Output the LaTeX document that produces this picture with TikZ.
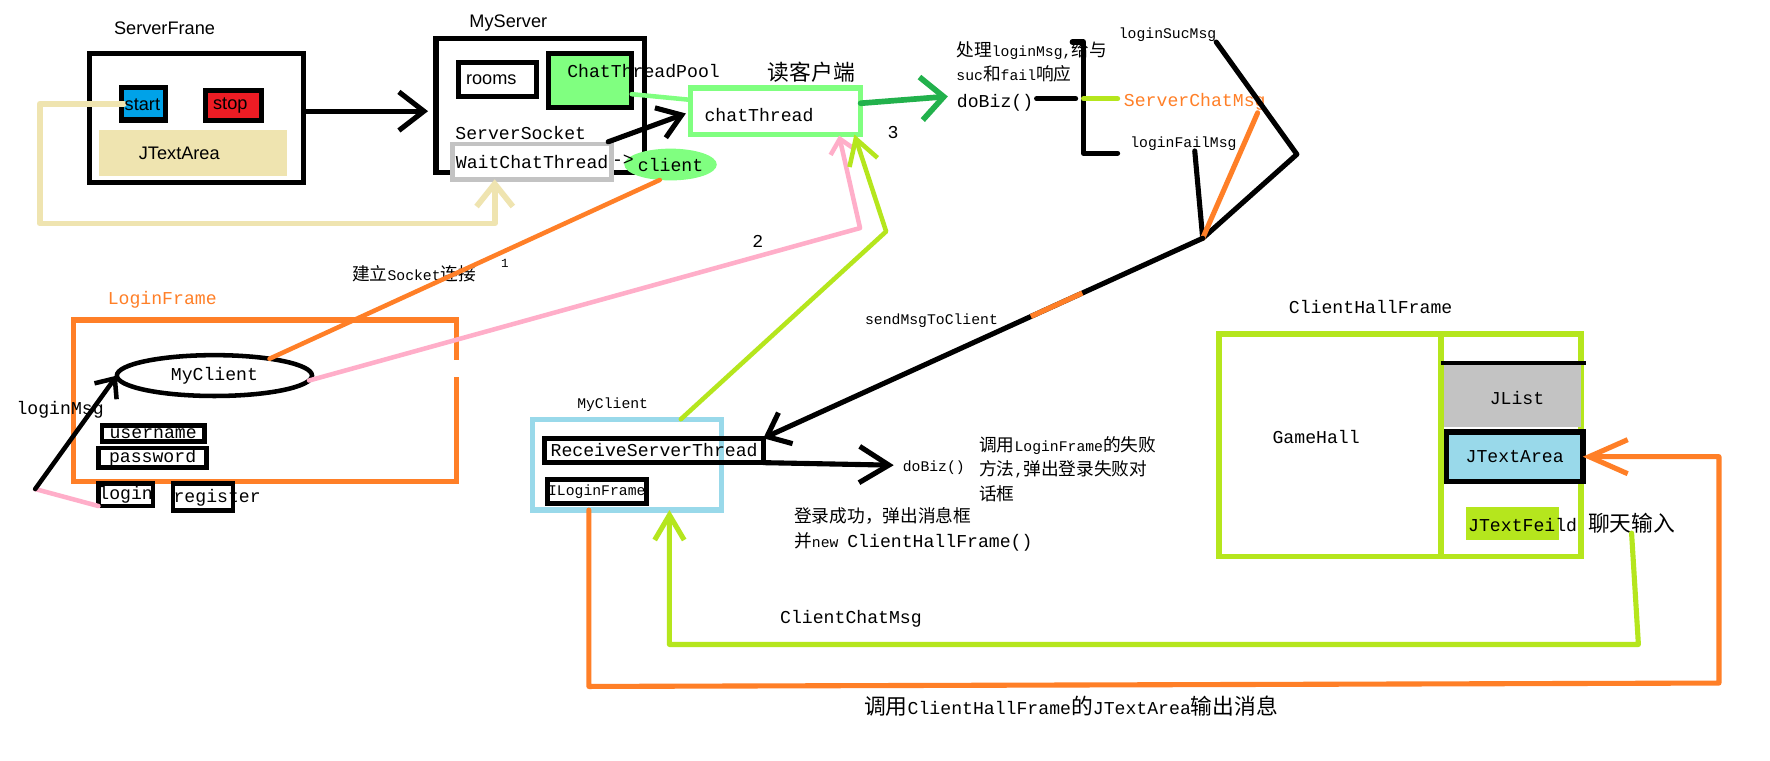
\documentclass[tikz,border=0pt]{standalone}
\usepackage{fontspec}
\setmainfont{Liberation Mono}
\newfontfamily\zhf[Scale=1.2]{Noto Sans CJK SC}
\newfontfamily\yahei{Liberation Sans}
\usetikzlibrary{arrows.meta,shapes.geometric,calc}
\definecolor{cOrange}{HTML}{FF7F27}
\definecolor{cPink}{HTML}{FFAEC9}
\definecolor{cLime}{HTML}{B5E61D}
\definecolor{cLGreen}{HTML}{80FF80}
\definecolor{cDGreen}{HTML}{22B14C}
\definecolor{cBeige}{HTML}{EFE4B0}
\definecolor{cLBlue}{HTML}{99D9EA}
\definecolor{cGray}{HTML}{C3C3C3}
\definecolor{cBlue}{HTML}{00A2E8}
\definecolor{cRed}{HTML}{ED1C24}
\newcommand\FBig{\fontsize{16}{19}\selectfont}
\newcommand\FSm{\fontsize{13}{16}\selectfont}
\newcommand\FSans{\yahei\fontsize{16}{19}\selectfont}
\begin{document}
\begin{tikzpicture}[x=1pt,y=-1pt,
  every node/.style={inner sep=0pt,outer sep=0pt,font=\FBig},
  bx/.style={draw=black,line width=4.5pt},
  ln/.style={line width=4.5pt,line cap=round,line join=round},
  barb/.style 2 args={-{Straight Barb[length=#1pt,width=#2pt]}},
  sm/.style={font=\FSm},
  sansl/.style={font=\FSans},
  cjkbig/.style={font=\zhf\FBig}]

\fill[white] (0,0) rectangle (1560,670);
\useasboundingbox (0,0) rectangle (1560,670);

% ---------- ServerFrame ----------
\node[sansl] (sft) at (145,25) {ServerFrane};
\node[bx,minimum width=188.5pt,minimum height=113.5pt] (sf) at (173.5,104) {};
\node[fill=cBeige,minimum width=166pt,minimum height=40.5pt] (sjta) at (170,135) {};
\node[sansl] (sjtat) at (158,135) {JTextArea};
\node[bx,fill=cBlue,minimum width=38.5pt,minimum height=28.5pt] (start) at (126.5,91.5) {};
\node[bx,fill=cRed,minimum width=49.5pt,minimum height=26.5pt] (stop) at (206,93) {};

% ---------- MyServer ----------
\node[sansl] (mst) at (448,20) {MyServer};
\node[bx,minimum width=183.5pt,minimum height=117.5pt] (ms) at (476,93) {};
\node[bx,minimum width=68.5pt,minimum height=29.5pt] (rooms) at (438.5,70) {};
\node[sansl] (roomst) at (433,70) {rooms};
\node[bx,fill=cLGreen,minimum width=73.5pt,minimum height=47pt] (ctp) at (520,71) {};
\node[anchor=west] (ctpt) at (500,63) {ChatThreadPool};
\node (sst) at (459,117) {ServerSocket};
\node[draw=cGray,fill=white,line width=4pt,minimum width=140pt,minimum height=31pt] (wct) at (469,142.5) {WaitChatThread};
\node[ellipse,fill=cLGreen,minimum width=70pt,minimum height=28pt] (cl) at (591,145) {client};
\node (arr) at (549,141) {->};

% ---------- chatThread ----------
\node[draw=cLGreen,line width=5pt,minimum width=150pt,minimum height=41pt] (ct) at (683.5,98) {};
\node (ctt) at (669,101) {chatThread};
\node[cjkbig] (ctl) at (715,64) {读客户端};

% ---------- doBiz (server) ----------
\node (dobiz) at (877,91) {doBiz()};
\node (n3) at (787,117) {3};
\node[sm,anchor=west] (proc1) at (843,45) {{\zhf 处理}loginMsg,{\zhf 给与}};
\node[sm,anchor=west] (proc2) at (843,65) {suc{\zhf 和}fail{\zhf 响应}};
\node[sm] (lsm) at (1029,31) {loginSucMsg};
\node[text=cOrange] (scm) at (1053,90) {ServerChatMsg};
\node[sm] (lfm) at (1043,127) {loginFailMsg};
\node[sm] (smtc) at (821,283) {sendMsgToClient};

% ---------- LoginFrame ----------
\node[text=cOrange] (lft) at (143,264) {LoginFrame};
\node[minimum width=337pt,minimum height=142pt] (lf) at (233.5,353) {};
\draw[cOrange,line width=4.5pt] ([yshift=-35pt]lf.north east) -- (lf.north east) -- (lf.north west) -- (lf.south west) -- (lf.south east) -- ([yshift=-50pt]lf.north east);
\node[ellipse,draw=black,line width=4pt,minimum width=172pt,minimum height=36pt] (mc) at (189,331) {MyClient};
\node[bx,line width=4pt,minimum width=90pt,minimum height=14pt] (un) at (135,382) {username};
\node[bx,line width=4pt,minimum width=95pt,minimum height=17pt] (pw) at (134.5,403.5) {password};
\node[bx,line width=4pt,minimum width=48pt,minimum height=20pt] (lg) at (110.75,436) {login};
\node[bx,line width=4pt,minimum width=53pt,minimum height=24pt] (rg) at (179,438) {};
\node[anchor=west] (rgt) at (153,439) {register};
\node (lmsg) at (53,361) {loginMsg};
\node[font=\fontsize{11}{13}\selectfont] (n1) at (445,232) {1};
\node[sm] (sock) at (365,241) {{\zhf 建立}Socket{\zhf 连接}};
\coordinate (lms) at (31,431);

% ---------- MyClient ----------
\node[sm] (mcbt) at (540,357) {MyClient};
\node[draw=cLBlue,line width=4.5pt,minimum width=166pt,minimum height=80pt] (mcb) at (552.5,409.5) {};
\node[bx,minimum width=192.5pt,minimum height=21.5pt] (rst) at (576.5,397) {ReceiveServerThread};
\node[bx,sm,minimum width=87.5pt,minimum height=21.5pt] (ilf) at (526,433) {ILoginFrame};
\node[sm] (db2) at (823,412) {doBiz()};
\node[sm,anchor=west] (f1) at (863,393) {{\zhf 调用}LoginFrame{\zhf 的失败}};
\node[sm,anchor=west] (f2) at (863,414) {{\zhf 方法},{\zhf 弹出登录失败对}};
\node[sm,anchor=west] (f3) at (863,435) {{\zhf 话框}};
\node[sm,anchor=west] (s1) at (700,455) {{\zhf 登录成功，弹出消息框}};
\node[sm,anchor=west] (s2) at (700,478) {{\zhf 并}new {\FBig ClientHallFrame()}};

% ---------- ClientHallFrame ----------
\node (chft) at (1208,271) {ClientHallFrame};
\node[draw=cLime,line width=5pt,minimum width=319pt,minimum height=196pt] (chf) at (1234,392.5) {};
\node[fill=cGray,minimum width=121.5pt,minimum height=54pt] (jl) at (1332.75,349) {};
\node (jlt) at (1337,351) {JList};
\draw[cLime,line width=4.5pt] (1270,294) -- (1270,491);
\draw[black,line width=4pt] (1270,320) -- (1398,320);
\node[bx,line width=5pt,fill=cLBlue,minimum width=120pt,minimum height=44pt] (jta) at (1335,402.5) {JTextArea};
\node[fill=cLime,minimum width=82pt,minimum height=28.5pt] (jtf) at (1333,461.5) {};
\node (jtft) at (1342,463) {JTextFeild};
\node[cjkbig] (chat) at (1438,461) {聊天输入};
\node (gh) at (1160,385) {GameHall};

% ---------- bottom texts ----------
\node (ccm) at (750,545) {ClientChatMsg};
\node (bott) at (944,622) {{\zhf 调用}ClientHallFrame{\zhf 的}JTextArea{\zhf 输出消息}};
\node (n2) at (668,213) {2};

% ---------- connectors ----------
% beige: start -> WaitChatThread
\coordinate (b1) at (35,91.5);
\coordinate (b2) at (35,197);
\coordinate (b3) at (436,197);
\draw[ln,cBeige,line width=5pt,barb={20}{32}] ([xshift=2pt]start.west) -- (b1) -- (b2) -- (b3) -- ([xshift=-33pt]wct.south);
\node[sansl] (startt) at (125.5,92) {start};
\node[sansl] (stopt) at (203,93) {stop};

% ServerFrame -> MyServer
\draw[ln,barb={22}{34}] ([yshift=6pt]sf.east) -- ([xshift=-7pt,yshift=-5pt]ms.west);
% ChatThreadPool - chatThread
\draw[ln,cLGreen,line width=4pt] ([yshift=-12pt]ctp.east) -- ([yshift=10pt]ct.west);
% WaitChatThread -> chatThread
\draw[ln,barb={20}{28}] ([xshift=-3pt,yshift=2pt]wct.north east) -- ([xshift=-4pt,yshift=-2pt]ct.west);
% chatThread -> doBiz
\draw[ln,cDGreen,line width=5pt,barb={20}{38}] ([yshift=7pt]ct.east) -- ([xshift=-8pt,yshift=6pt]dobiz.west);
% doBiz - bracket
\coordinate (bm) at (955,87);
\coordinate (bt) at (955,37);
\coordinate (bb) at (955,135);
\draw[ln] ([xshift=3pt,yshift=4pt]dobiz.east) -- ([xshift=-7pt]bm);
\draw[ln] ([xshift=-10pt]bt) -- (bt) -- (bb) -- ([xshift=30pt]bb);
\draw[ln,cLime] (bm) -- ++(30,0);
% converging lines
\coordinate (kn) at (1143,136);
\coordinate (jn) at (1060,210);
\draw[ln] (lsm.south east) -- (kn) -- (jn);
\draw[ln] ([xshift=10pt]lfm.south) -- (jn);
\draw[ln,cOrange] ([xshift=-7pt,yshift=-2pt]scm.south east) -- (jn);
\draw[ln,barb={18}{30}] (jn) -- (rst.north east);
\draw[line width=4.5pt,cOrange] ($(jn)!0.274!(rst.north east)$) -- ($(jn)!0.391!(rst.north east)$);

% client -> MyClient (orange)
\draw[ln,cOrange,line width=4pt] (cl.235) -- (mc.17);
% pink: MyClient -> chatThread
\coordinate (pb) at (758,201);
\draw[ln,cPink,line width=4pt,barb={12}{22}] (mc.-3.5) -- (pb) -- ([xshift=56pt,yshift=-1pt]ct.south);
% lime: MyClient box -> chatThread
\coordinate (lb) at (781,204);
\draw[ln,cLime,line width=4pt,barb={22}{26}] ([xshift=47.5pt]mcb.north) -- (lb) -- ([xshift=69.5pt]ct.south);
% loginMsg
\draw[ln,cPink,line width=4pt] (lms) -- (lg.south west);
\draw[ln,line width=4pt,barb={14}{24}] (lms) -- (mc.west);
% ReceiveServerThread -> doBiz
\draw[ln,barb={26}{32}] (rst.south east) -- ([xshift=-8pt,yshift=2pt]db2.west);
% orange bottom loop to JTextArea
\coordinate (o1) at (519,605);
\coordinate (o2) at (1515,602);
\draw[ln,cOrange,line width=4.5pt,barb={34}{30}] ([xshift=-33.5pt]mcb.south) -- (o1) -- (o2) -- (o2 |- jta.east) -- (jta.east);
% lime bottom loop to MyClient
\coordinate (l1) at (1444,568);
\coordinate (l2) at (590,568);
\draw[ln,cLime,line width=4.5pt,barb={22}{26}] (chat.south) -- (l1) -- (l2) -- ([xshift=37.5pt]mcb.south);
\end{tikzpicture}
\end{document}
